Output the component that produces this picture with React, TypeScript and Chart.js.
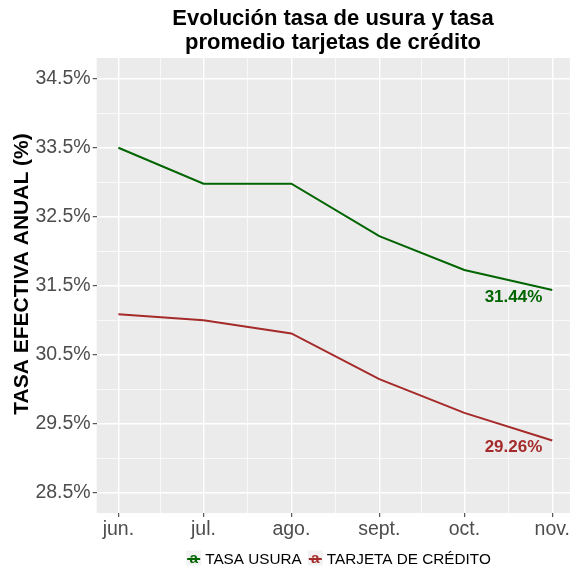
import React, { useEffect, useRef } from "react";
import { Chart, registerables } from "chart.js";

Chart.register(...registerables);

const monthDates = ["2024-06-01", "2024-07-01", "2024-08-01", "2024-09-01", "2024-10-01", "2024-11-01"];
const monthLabels = ["jun.", "jul.", "ago.", "sept.", "oct.", "nov."];
const tasaUsura = [33.5, 32.98, 32.98, 32.22, 31.73, 31.44];
const tarjetaCredito = [31.09, 31.0, 30.81, 30.15, 29.66, 29.26];
const seriesNames = ["TASA USURA", "TARJETA DE CRÉDITO"];
const seriesColors = ["#006400", "#A52A2A"];
const yMajorTicks = [28.5, 29.5, 30.5, 31.5, 32.5, 33.5, 34.5];
const yMinorTicks = [29, 30, 31, 32, 33, 34];
const titleLines = ["Evolución tasa de usura y tasa", "promedio tarjetas de crédito"];
const yTitle = "TASA EFECTIVA ANUAL (%)";

const FONT = '"Liberation Sans", Arial, Helvetica, sans-serif';
const DAY = 86400000;
const t0 = Date.parse(monthDates[0]);
const dayOffsets = monthDates.map((d) => Math.round((Date.parse(d) - t0) / DAY));
const xMinorTicks = dayOffsets.slice(1).map((d, i) => (d + dayOffsets[i]) / 2);
const xMin = -7.65;
const xMax = 159.2;
const yLo = 28.21;
const yHi = 34.8;

const isMajorY = (v: number) => yMajorTicks.some((m) => Math.abs(m - v) < 1e-6);
const isMajorX = (v: number) => dayOffsets.some((m) => Math.abs(m - v) < 1e-6);

const decorPlugin = {
  id: "decor",
  beforeDraw(chart: any) {
    const { ctx, chartArea } = chart;
    ctx.save();
    ctx.fillStyle = "#EBEBEB";
    ctx.fillRect(chartArea.left, chartArea.top, chartArea.right - chartArea.left, chartArea.bottom - chartArea.top);
    ctx.restore();
  },
  afterDraw(chart: any) {
    const { ctx, scales } = chart;
    ctx.save();
    // Title
    ctx.fillStyle = "#000000";
    ctx.font = `bold 22px ${FONT}`;
    ctx.textAlign = "center";
    ctx.textBaseline = "alphabetic";
    ctx.fillText(titleLines[0], 333, 25);
    ctx.fillText(titleLines[1], 333, 48.5);
    // Y title
    ctx.save();
    ctx.translate(28, 274);
    ctx.rotate(-Math.PI / 2);
    ctx.font = `bold 21px ${FONT}`;
    ctx.textAlign = "center";
    ctx.fillText(yTitle, 0, 0);
    ctx.restore();
    // End labels
    ctx.font = `bold 17px ${FONT}`;
    ctx.textAlign = "right";
    ctx.textBaseline = "middle";
    const lastX = dayOffsets[dayOffsets.length - 1];
    [tasaUsura, tarjetaCredito].forEach((arr, i) => {
      const v = arr[arr.length - 1];
      ctx.fillStyle = seriesColors[i];
      ctx.fillText(`${v.toFixed(2)}%`, scales.x.getPixelForValue(lastX) - 10, scales.y.getPixelForValue(v) + 7);
    });
    // Legend
    const fs = 15.3;
    ctx.textBaseline = "alphabetic";
    ctx.textAlign = "left";
    ctx.font = `${fs}px ${FONT}`;
    const key = 15;
    const gap1 = 4;
    const gap2 = 6;
    const widths = seriesNames.map((n) => ctx.measureText(n).width);
    const total = key + gap1 + widths[0] + gap2 + key + gap1 + widths[1];
    let x = 338.5 - total / 2;
    const cy = 558;
    seriesNames.forEach((n, i) => {
      ctx.fillStyle = "#F2F2F2";
      ctx.fillRect(x, cy - key / 2, key, key);
      ctx.strokeStyle = seriesColors[i];
      ctx.lineWidth = 2;
      ctx.beginPath();
      ctx.moveTo(x + 1, cy + 1);
      ctx.lineTo(x + key - 1, cy + 1);
      ctx.stroke();
      ctx.fillStyle = seriesColors[i];
      ctx.font = `bold ${fs}px ${FONT}`;
      ctx.textAlign = "center";
      ctx.fillText("a", x + key / 2, cy + 5);
      ctx.font = `${fs}px ${FONT}`;
      ctx.textAlign = "left";
      ctx.fillStyle = "#000000";
      ctx.fillText(n, x + key + gap1, cy + 5.5);
      x += key + gap1 + widths[i] + gap2;
    });
    ctx.restore();
  },
};

export default function App() {
  const ref = useRef<HTMLCanvasElement>(null);
  useEffect(() => {
    document.body.style.margin = "0";
    const canvas = ref.current!;
    const chart = new Chart(canvas, {
      type: "line",
      data: {
        datasets: [tasaUsura, tarjetaCredito].map((arr, i) => ({
          label: seriesNames[i],
          data: arr.map((v, j) => ({ x: dayOffsets[j], y: v })),
          borderColor: seriesColors[i],
          backgroundColor: seriesColors[i],
          borderWidth: 2,
          pointRadius: 0,
          tension: 0,
          fill: false,
        })),
      },
      options: {
        animation: false,
        responsive: false,
        devicePixelRatio: 1,
        layout: { padding: { top: 58, right: 0, left: 0, bottom: 0 } },
        plugins: { legend: { display: false }, title: { display: false }, tooltip: { enabled: false } },
        scales: {
          x: {
            type: "linear",
            min: xMin,
            max: xMax,
            afterBuildTicks: (scale: any) => {
              scale.ticks = [...dayOffsets, ...xMinorTicks].sort((a, b) => a - b).map((v) => ({ value: v }));
            },
            afterFit: (scale: any) => {
              scale.height = 59;
            },
            border: { display: false },
            grid: {
              color: "#FFFFFF",
              lineWidth: (c: any) => (isMajorX(c.tick?.value) ? 1.4 : 0.7),
              tickColor: (c: any) => (isMajorX(c.tick?.value) ? "#333333" : "rgba(0,0,0,0)"),
              tickLength: 4,
              tickWidth: 1,
              drawTicks: true,
            },
            ticks: {
              autoSkip: false,
              maxRotation: 0,
              padding: 1,
              color: "#4D4D4D",
              font: { family: FONT, size: 19.5 },
              callback: (v: any) => {
                const idx = dayOffsets.findIndex((d) => Math.abs(d - v) < 1e-6);
                return idx >= 0 ? monthLabels[idx] : "";
              },
            },
          },
          y: {
            type: "linear",
            min: yLo,
            max: yHi,
            afterBuildTicks: (scale: any) => {
              scale.ticks = [...yMajorTicks, ...yMinorTicks].sort((a, b) => a - b).map((v) => ({ value: v }));
            },
            afterFit: (scale: any) => {
              scale.width = 96.7;
            },
            border: { display: false },
            grid: {
              color: "#FFFFFF",
              lineWidth: (c: any) => (isMajorY(c.tick?.value) ? 1.4 : 0.7),
              tickColor: (c: any) => (isMajorY(c.tick?.value) ? "#333333" : "rgba(0,0,0,0)"),
              tickLength: 4,
              tickWidth: 1,
              drawTicks: true,
            },
            ticks: {
              autoSkip: false,
              padding: 2,
              color: "#4D4D4D",
              font: { family: FONT, size: 19.5 },
              callback: (v: any) => (isMajorY(Number(v)) ? `${Number(v).toFixed(1)}%` : ""),
            },
          },
        },
      },
      plugins: [decorPlugin],
    });
    return () => chart.destroy();
  }, []);
  return <canvas ref={ref} width={571} height={572} style={{ display: "block", width: 571, height: 572 }} />;
}
